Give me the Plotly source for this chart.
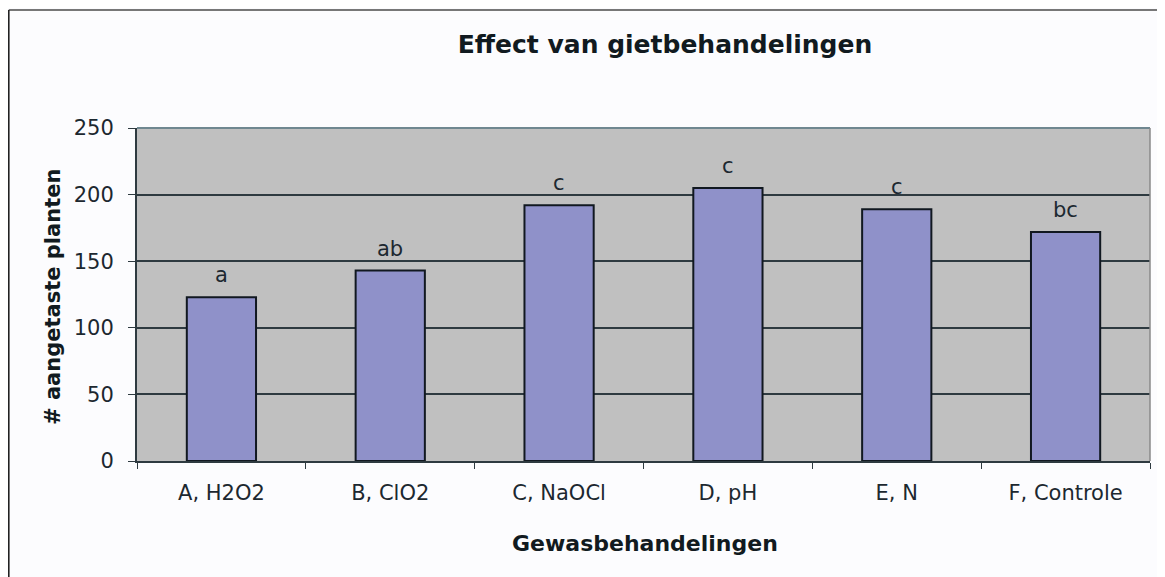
import plotly.graph_objects as go

categories = ["A, H2O2", "B, ClO2", "C, NaOCl", "D, pH", "E, N", "F, Controle"]
values = [123, 143, 192, 205, 189, 172]
letters = ["a", "ab", "c", "c", "c", "bc"]
y_ticks = [0, 50, 100, 150, 200, 250]

FONT = "DejaVu Sans, Liberation Sans, Arial, sans-serif"
TXT = "#1c2830"

W, H = 1157, 569
L, R, T, B = 129, 15, 120, 116
PW, PH = W - L - R, H - T - B

fig = go.Figure()
fig.add_trace(go.Bar(
    x=categories, y=values,
    marker=dict(color="#8f91c9", line=dict(color="#111820", width=2)),
    width=0.41,
))

for c, v, t in zip(categories, values, letters):
    fig.add_annotation(x=c, y=v, text=t, showarrow=False, yshift=22,
                       font=dict(family=FONT, size=21, color=TXT))

fig.update_layout(
    width=W, height=H,
    margin=dict(l=L, r=R, t=T, b=B),
    paper_bgcolor="#fcfcfe",
    plot_bgcolor="#c0c0c0",
    showlegend=False,
    title=dict(text="<b>Effect van gietbehandelingen</b>", xref="paper",
               x=(657 - L) / PW, xanchor="center",
               y=1 - 36 / H, yanchor="middle",
               font=dict(family=FONT, size=25, color="#111a20")),
    font=dict(family=FONT, color=TXT),
)

fig.update_xaxes(
    type="category", tickson="boundaries", ticks="outside", ticklen=6,
    tickcolor="#2e3a40", showline=True, linecolor="#2e3a40", linewidth=2,
    showgrid=False, ticklabelstandoff=12,
    tickfont=dict(family=FONT, size=21, color=TXT),
)
fig.update_yaxes(
    range=[0, 250], tickvals=y_ticks, ticks="outside", ticklen=7,
    tickcolor="#2e3a40", showline=True, linecolor="#2e3a40", linewidth=2,
    showgrid=True, gridcolor="#2e3a40", gridwidth=1.5, zeroline=False,
    ticklabelstandoff=10,
    tickfont=dict(family=FONT, size=21, color=TXT),
)

# axis titles
fig.add_annotation(xref="paper", yref="paper", x=(637 - L) / PW, y=(H - B - 535) / PH,
                   text="<b>Gewasbehandelingen</b>", showarrow=False,
                   xanchor="center", yanchor="middle",
                   font=dict(family=FONT, size=22, color="#111a20"))
fig.add_annotation(xref="paper", yref="paper", x=(45 - L) / PW, y=(H - B - 289) / PH,
                   text="<b># aangetaste planten</b>", showarrow=False, textangle=-90,
                   xanchor="center", yanchor="middle",
                   font=dict(family=FONT, size=21, color="#111a20"))

# plot area top/right edges and outer frame
fig.add_shape(type="line", xref="paper", yref="paper", x0=0, x1=1, y0=1, y1=1,
              line=dict(color="#6f8790", width=2))
fig.add_shape(type="line", xref="paper", yref="paper", x0=1, x1=1, y0=0, y1=1,
              line=dict(color="#8a8a8a", width=1.5))
fig.add_shape(type="line", xref="paper", yref="paper",
              x0=(0.8 - L) / PW, x1=(W + 5 - L) / PW,
              y0=(H - B - 2) / PH, y1=(H - B - 2) / PH,
              line=dict(color="#777777", width=2))
fig.add_shape(type="line", xref="paper", yref="paper",
              x0=(0.8 - L) / PW, x1=(0.8 - L) / PW,
              y0=(H - B - 2) / PH, y1=-(B + 5) / PH,
              line=dict(color="#222222", width=1.6))

fig.write_html("out.html")
